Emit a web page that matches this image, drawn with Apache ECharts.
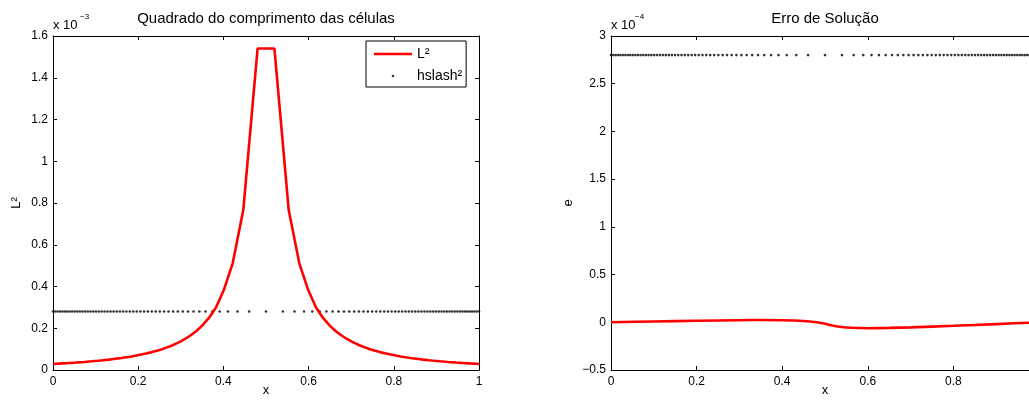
<!DOCTYPE html>
<html>
<head>
<meta charset="utf-8">
<script src="https://cdn.jsdelivr.net/npm/echarts@6/dist/echarts.min.js"></script>
<style>
html,body{margin:0;padding:0;background:#fff;}
#c{width:1029px;height:403px;}
</style>
</head>
<body>
<div id="c"></div>
<script>
// ---- data ----
var xTicks = [0, 0.2, 0.4, 0.6, 0.8, 1];
var nodeX = [0, 0.00542, 0.01090, 0.01643, 0.02202, 0.02767, 0.03338, 0.03915, 0.04498, 0.05089, 0.05686, 0.06291, 0.06903, 0.07523, 0.08151, 0.08788, 0.09433, 0.10088, 0.10752, 0.11426, 0.12110, 0.12806, 0.13512, 0.14231, 0.14963, 0.15708, 0.16467, 0.17242, 0.18032, 0.18839, 0.19664, 0.20509, 0.21375, 0.22263, 0.23175, 0.24114, 0.25082, 0.26081, 0.27116, 0.28189, 0.29306, 0.30473, 0.31697, 0.32987, 0.34355, 0.35817, 0.37397, 0.39127, 0.41062, 0.43297, 0.46042, 0.5, 0.53958, 0.56703, 0.58938, 0.60873, 0.62603, 0.64183, 0.65645, 0.67013, 0.68303, 0.69527, 0.70694, 0.71811, 0.72884, 0.73919, 0.74918, 0.75886, 0.76825, 0.77737, 0.78625, 0.79491, 0.80336, 0.81161, 0.81968, 0.82758, 0.83533, 0.84292, 0.85037, 0.85769, 0.86488, 0.87194, 0.87890, 0.88574, 0.89248, 0.89912, 0.90567, 0.91212, 0.91849, 0.92477, 0.93097, 0.93709, 0.94314, 0.94911, 0.95502, 0.96085, 0.96662, 0.97233, 0.97798, 0.98357, 0.98910, 0.99458, 1];
var hslash2Left = 0.28;   // x 10^-3
var hslash2Right = 2.8;   // x 10^-4
var cellX = [0, 0.00271, 0.00816, 0.01366, 0.01922, 0.02484, 0.03052, 0.03626, 0.04206, 0.04793, 0.05387, 0.05988, 0.06597, 0.07213, 0.07837, 0.08469, 0.09110, 0.09760, 0.10420, 0.11089, 0.11768, 0.12458, 0.13159, 0.13871, 0.14597, 0.15335, 0.16087, 0.16854, 0.17637, 0.18435, 0.19251, 0.20086, 0.20942, 0.21819, 0.22719, 0.23644, 0.24598, 0.25581, 0.26598, 0.27652, 0.28747, 0.29889, 0.31085, 0.32342, 0.33671, 0.35086, 0.36607, 0.38262, 0.40094, 0.42179, 0.44669, 0.48021, 0.51979, 0.55331, 0.57821, 0.59906, 0.61738, 0.63393, 0.64914, 0.66329, 0.67658, 0.68915, 0.70111, 0.71253, 0.72348, 0.73402, 0.74419, 0.75402, 0.76356, 0.77281, 0.78181, 0.79058, 0.79914, 0.80749, 0.81565, 0.82363, 0.83146, 0.83913, 0.84665, 0.85403, 0.86129, 0.86841, 0.87542, 0.88232, 0.88911, 0.89580, 0.90240, 0.90890, 0.91531, 0.92163, 0.92787, 0.93403, 0.94012, 0.94613, 0.95207, 0.95794, 0.96374, 0.96948, 0.97516, 0.98078, 0.98634, 0.99184, 0.99729, 1];
var cellL2 = [0.0290, 0.0294, 0.0300, 0.0306, 0.0312, 0.0319, 0.0326, 0.0333, 0.0340, 0.0349, 0.0356, 0.0366, 0.0375, 0.0384, 0.0394, 0.0406, 0.0416, 0.0429, 0.0441, 0.0454, 0.0468, 0.0484, 0.0498, 0.0517, 0.0536, 0.0555, 0.0576, 0.0601, 0.0624, 0.0651, 0.0681, 0.0714, 0.0750, 0.0789, 0.0832, 0.0882, 0.0937, 0.0998, 0.1071, 0.1151, 0.1248, 0.1362, 0.1498, 0.1664, 0.1871, 0.2137, 0.2496, 0.2993, 0.383, 0.511, 0.766, 1.54, 1.54, 0.766, 0.511, 0.383, 0.2993, 0.2496, 0.2137, 0.1871, 0.1664, 0.1498, 0.1362, 0.1248, 0.1151, 0.1071, 0.0998, 0.0937, 0.0882, 0.0832, 0.0789, 0.0750, 0.0714, 0.0681, 0.0651, 0.0624, 0.0601, 0.0576, 0.0555, 0.0536, 0.0517, 0.0498, 0.0484, 0.0468, 0.0454, 0.0441, 0.0429, 0.0416, 0.0406, 0.0394, 0.0384, 0.0375, 0.0366, 0.0356, 0.0349, 0.0340, 0.0333, 0.0326, 0.0319, 0.0312, 0.0306, 0.0300, 0.0294, 0.0290];
var errX = [0, 0.1, 0.2, 0.3, 0.35, 0.4, 0.45, 0.48, 0.5, 0.53, 0.56, 0.6, 0.65, 0.7, 0.8, 0.9, 1.0];
var errY = [0, 0.009, 0.016, 0.022, 0.024, 0.022, 0.013, 0.0, -0.016, -0.045, -0.058, -0.062, -0.059, -0.053, -0.037, -0.019, 0];
var leftYTicks = [0, 0.2, 0.4, 0.6, 0.8, 1, 1.2, 1.4, 1.6];
var rightYTicks = [-0.5, 0, 0.5, 1, 1.5, 2, 2.5, 3];

// ---- build ----
var FONT = 'Liberation Sans, Arial, sans-serif';
function pairs(xs, ys) { var o = []; for (var i = 0; i < Math.min(xs.length, ys.length); i++) o.push([xs[i], ys[i]]); return o; }
function consts(xs, v) { return xs.map(function (x) { return [x, v]; }); }
var lineC = { color: '#000', width: 1 };
function fmt(v) { return String(Math.round(v * 100) / 100).replace('-', '\u2212'); }

function xAxisPair(gi) {
  return [
    { gridIndex: gi, type: 'value', position: 'bottom', min: xTicks[0], max: xTicks[xTicks.length - 1], interval: 0.2,
      axisLine: { show: true, onZero: false, lineStyle: lineC },
      axisTick: { show: true, inside: true, length: 4, lineStyle: lineC },
      axisLabel: { show: true, margin: 6, color: '#000', fontSize: 12, fontFamily: FONT, formatter: fmt },
      splitLine: { show: false },
      name: 'x', nameLocation: 'middle', nameGap: 14, nameMoveOverlap: false,
      nameTextStyle: { color: '#000', fontSize: 13, fontFamily: FONT } },
    { gridIndex: gi, type: 'value', position: 'top', min: xTicks[0], max: xTicks[xTicks.length - 1], interval: 0.2,
      axisLine: { show: true, onZero: false, lineStyle: lineC },
      axisTick: { show: true, inside: true, length: 4, lineStyle: lineC },
      axisLabel: { show: false }, splitLine: { show: false } }
  ];
}
function yAxisPair(gi, ticks, name, gap) {
  var mn = ticks[0], mx = ticks[ticks.length - 1], iv = ticks[1] - ticks[0];
  return [
    { gridIndex: gi, type: 'value', position: 'left', min: mn, max: mx, interval: iv,
      axisLine: { show: true, onZero: false, lineStyle: lineC },
      axisTick: { show: true, inside: true, length: 4, lineStyle: lineC },
      axisLabel: { show: true, margin: 5, color: '#000', fontSize: 12, fontFamily: FONT, formatter: fmt },
      splitLine: { show: false },
      name: name, nameLocation: 'middle', nameGap: gap, nameRotate: 90,
      nameTextStyle: { color: '#000', fontSize: 13, fontFamily: FONT } },
    { gridIndex: gi, type: 'value', position: 'right', min: mn, max: mx, interval: iv,
      axisLine: { show: true, onZero: false, lineStyle: lineC },
      axisTick: { show: true, inside: true, length: 4, lineStyle: lineC },
      axisLabel: { show: false }, splitLine: { show: false } }
  ];
}

var chart = echarts.init(document.getElementById('c'), null, { renderer: 'canvas' });
var xa = xAxisPair(0).concat(xAxisPair(1));
var ya = yAxisPair(0, leftYTicks, 'L\u00b2', 30).concat(yAxisPair(1, rightYTicks, 'e', 36));

chart.setOption({
  backgroundColor: '#fff',
  animation: false,
  grid: [
    { left: 53, top: 36, width: 426, height: 334, outerBoundsMode: 'none', containLabel: false },
    { left: 611, top: 36, width: 428, height: 334, outerBoundsMode: 'none', containLabel: false }
  ],
  xAxis: xa,
  yAxis: ya,
  legend: {
    data: [{ name: 'L\u00b2', icon: 'rect' }, { name: 'hslash\u00b2', icon: 'circle' }],
    orient: 'vertical', left: 366, top: 41,
    padding: [6, 4, 4, 8], itemWidth: 38, itemHeight: 2.6, itemGap: 8,
    backgroundColor: '#fff', borderColor: '#000', borderWidth: 1, borderRadius: 0,
    textStyle: { color: '#000', fontSize: 14, fontFamily: FONT },
    selectedMode: false
  },
  graphic: [
    { type: 'text', x: 266, y: 19, style: { text: 'Quadrado do comprimento das c\u00e9lulas', align: 'center', verticalAlign: 'middle', fill: '#000', font: '15px ' + FONT } },
    { type: 'text', x: 825, y: 19, style: { text: 'Erro de Solu\u00e7\u00e3o', align: 'center', verticalAlign: 'middle', fill: '#000', font: '15px ' + FONT } },
    { type: 'text', x: 53, y: 25, style: { text: 'x 10', align: 'left', verticalAlign: 'middle', fill: '#000', font: '13px ' + FONT } },
    { type: 'text', x: 80, y: 17, style: { text: '\u22123', align: 'left', verticalAlign: 'middle', fill: '#000', font: '8px ' + FONT } },
    { type: 'text', x: 611, y: 25, style: { text: 'x 10', align: 'left', verticalAlign: 'middle', fill: '#000', font: '13px ' + FONT } },
    { type: 'text', x: 635, y: 17, style: { text: '\u22124', align: 'left', verticalAlign: 'middle', fill: '#000', font: '8px ' + FONT } }
  ],
  series: [
    { name: 'L\u00b2', type: 'line', xAxisIndex: 0, yAxisIndex: 0, data: pairs(cellX, cellL2),
      showSymbol: false, symbol: 'none', color: '#ff0000', lineStyle: { color: '#ff0000', width: 2.6 }, z: 3 },
    { name: 'hslash\u00b2', type: 'scatter', xAxisIndex: 0, yAxisIndex: 0, data: consts(nodeX, hslash2Left),
      symbol: 'circle', symbolSize: 2.6, color: '#000', itemStyle: { color: '#000' }, z: 2 },
    { name: 'e', type: 'line', xAxisIndex: 2, yAxisIndex: 2, data: pairs(errX, errY), smooth: 0.3,
      showSymbol: false, symbol: 'none', color: '#ff0000', lineStyle: { color: '#ff0000', width: 2.6 }, z: 3 },
    { name: 'hslash2R', type: 'scatter', xAxisIndex: 2, yAxisIndex: 2, data: consts(nodeX, hslash2Right),
      symbol: 'circle', symbolSize: 2.6, color: '#000', itemStyle: { color: '#000' }, z: 2 }
  ]
});
</script>
</body>
</html>
